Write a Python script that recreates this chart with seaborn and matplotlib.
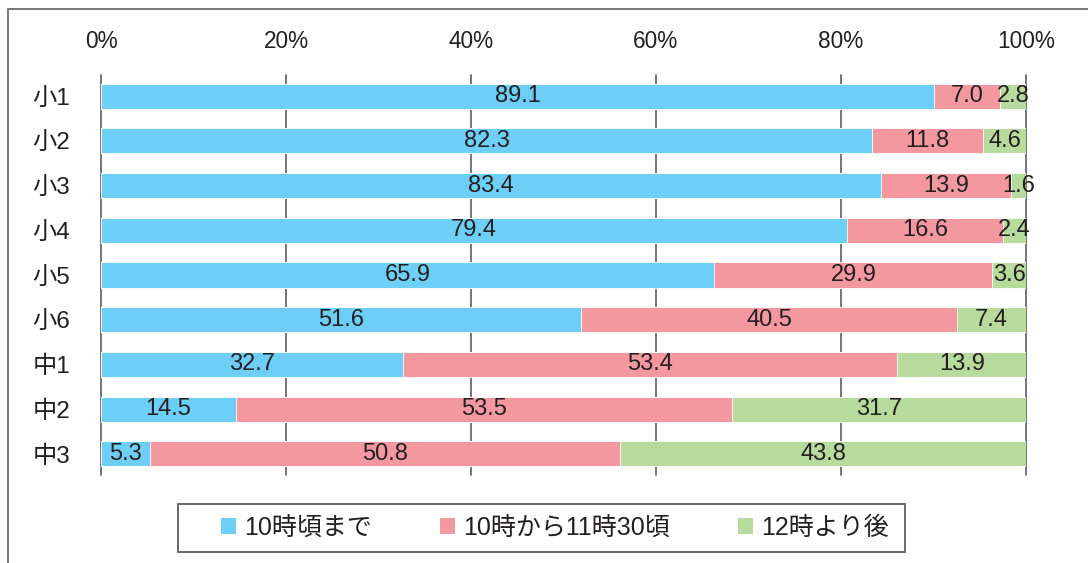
import matplotlib
matplotlib.use("Agg")
import matplotlib.pyplot as plt
import seaborn as sns
import numpy as np
import pandas as pd
from matplotlib.patches import Patch, Rectangle
from matplotlib.lines import Line2D

categories = ["小1", "小2", "小3", "小4", "小5", "小6", "中1", "中2", "中3"]
series_names = ["10時頃まで", "10時から11時30頃", "12時より後"]
before10 = [89.1, 82.3, 83.4, 79.4, 65.9, 51.6, 32.7, 14.5, 5.3]
between = [7.0, 11.8, 13.9, 16.6, 29.9, 40.5, 53.4, 53.5, 50.8]
after12 = [2.8, 4.6, 1.6, 2.4, 3.6, 7.4, 13.9, 31.7, 43.8]
tick_values = [0, 20, 40, 60, 80, 100]
tick_labels = ["0%", "20%", "40%", "60%", "80%", "100%"]

colors = ["#6dcff6", "#f4989f", "#b7db9c"]
text_color = "#231f20"

sns.set_theme(style="white")
plt.rcParams["font.family"] = ["Liberation Sans", "Noto Sans CJK JP"]

vals = np.array([before10, between, after12])
tot = vals.sum(axis=0)
norm = vals / tot * 100
cum = np.cumsum(norm, axis=0)

df = pd.DataFrame({
    "cat": categories,
    "c1": cum[0],
    "c2": cum[1],
    "c3": cum[2],
})

W, H = 1088, 563
fig = plt.figure(figsize=(W / 100, H / 100), dpi=100)
ax = fig.add_axes([101 / W, 1 - 475 / H, 925 / W, 400 / H])

w = 0.56
for col, c in zip(["c3", "c2", "c1"], colors[::-1]):
    sns.barplot(data=df, y="cat", x=col, orient="h", color=c, width=w,
                edgecolor="white", linewidth=0.6, ax=ax, zorder=2,
                saturation=1)

ax.set_xlim(0, 100)
ax.set_ylim(8.47, -0.47)
ax.set_xlabel("")
ax.set_ylabel("")
for s in ax.spines.values():
    s.set_visible(False)

for x in tick_values:
    ax.axvline(x, color="#6a6a6a", lw=1.3, zorder=1, clip_on=False)

ax.xaxis.tick_top()
ax.set_xticks(tick_values)
ax.set_xticklabels(tick_labels, fontsize=16.3, color=text_color)
ax.tick_params(axis="x", length=0, pad=16)
ax.tick_params(axis="y", length=0, pad=22)
ax.set_yticks(range(len(categories)))
ax.set_yticklabels(categories, fontsize=17.5, color=text_color)

starts = np.vstack([np.zeros(len(categories)), cum[:-1]])
for si in range(3):
    for i in range(len(categories)):
        xc = starts[si, i] + norm[si, i] / 2
        ax.text(xc, i, f"{vals[si, i]:.1f}", ha="center", va="center",
                fontsize=17, color=text_color, zorder=5)

# legend frame box
fig.add_artist(Rectangle((178 / W, 1 - 552 / H), (905 - 178) / W, 48 / H,
                         transform=fig.transFigure, facecolor="white",
                         edgecolor="#6a6a6a", lw=1.4, zorder=3))

handles = [Patch(facecolor=c, edgecolor="none") for c in colors]
leg = fig.legend(handles, series_names, loc="center",
                 bbox_to_anchor=(555 / W, 1 - 528 / H), ncol=3,
                 fontsize=18, frameon=False,
                 handlelength=0.6, handleheight=0.6, handletextpad=0.35,
                 columnspacing=2.7, borderpad=0.3)
leg.set_zorder(4)
for t in leg.get_texts():
    t.set_color(text_color)

fig.add_artist(Line2D([8 / W, 8 / W, 1.0], [0.0, 1 - 9 / H, 1 - 9 / H],
                      transform=fig.transFigure, color="#777777", lw=1.4))

fig.savefig("out.png", dpi=100)
